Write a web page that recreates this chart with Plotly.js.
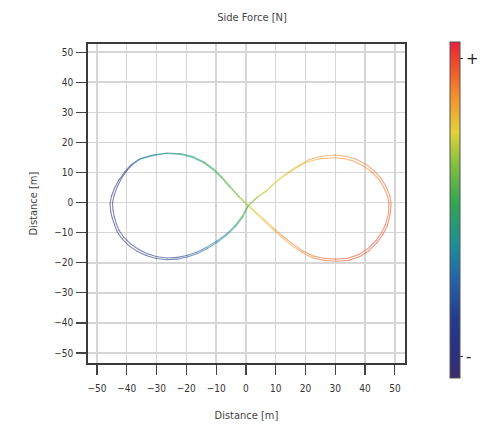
<!DOCTYPE html>
<html>
<head>
<meta charset="utf-8">
<script src="https://cdn.plot.ly/plotly-3.0.1.min.js"></script>
<style>html,body{margin:0;padding:0;background:#fff;}#chart{width:480px;height:430px;}</style>
</head>
<body>
<div id="chart"></div>
<script>
// Lap 1 of the figure-eight trajectory (Distance [m]) and side force (normalised -1..+1)
const lap1X = [0.8, 3.5, 6.9, 10.0, 13.6, 17.0, 20.2, 24.5, 29.1, 33.0, 35.8, 39.5, 42.4, 44.8, 46.3, 47.6, 48.0, 47.8, 46.9, 45.5, 43.6, 41.0, 38.0, 34.2, 30.2, 26.2, 22.4, 19.0, 15.8, 12.3, 9.1, 6.2, 3.6, 0.6, -2.2, -5.3, -8.0, -10.9, -14.0, -17.6, -21.5, -26.4, -31.0, -35.3, -37.8, -39.8, -41.8, -43.1, -44.2, -44.8, -44.6, -44.2, -43.5, -42.6, -41.0, -38.7, -36.0, -33.1, -29.8, -26.4, -23.0, -19.8, -16.4, -13.1, -9.7, -6.4, -3.6, -1.2, 0.8];
const lap1Y = [-1.0, 1.5, 3.8, 6.8, 9.4, 11.6, 13.4, 14.5, 14.9, 14.6, 13.9, 12.2, 10.0, 7.5, 5.0, 2.0, -0.5, -3.8, -7.2, -10.0, -12.7, -15.2, -17.2, -18.5, -18.8, -18.5, -17.7, -16.0, -13.8, -11.1, -8.3, -5.7, -3.3, -0.6, 2.0, 5.4, 8.5, 11.3, 13.5, 15.2, 16.2, 16.5, 15.9, 14.7, 12.9, 10.8, 8.0, 5.4, 2.5, -0.2, -2.5, -4.7, -7.0, -9.2, -11.5, -13.7, -15.6, -17.0, -18.0, -18.4, -18.2, -17.6, -16.4, -14.8, -12.7, -10.3, -7.6, -4.4, -1.0];
const lap1F = [0.30, 0.35, 0.40, 0.45, 0.50, 0.55, 0.60, 0.65, 0.68, 0.70, 0.72, 0.72, 0.74, 0.75, 0.76, 0.78, 0.80, 0.82, 0.85, 0.85, 0.86, 0.86, 0.85, 0.84, 0.82, 0.80, 0.78, 0.75, 0.72, 0.68, 0.62, 0.55, 0.48, 0.40, 0.30, 0.20, 0.12, 0.05, 0.00, -0.08, -0.12, -0.15, -0.20, -0.30, -0.45, -0.65, -0.80, -0.88, -0.92, -0.92, -0.90, -0.85, -0.80, -0.78, -0.80, -0.82, -0.85, -0.85, -0.82, -0.78, -0.70, -0.60, -0.50, -0.40, -0.30, -0.20, -0.10, 0.00, 0.15];

// Lap 2 (slightly offset repeat of the same path)
const lap2X = [0.8, 3.8, 7.3, 10.6, 14.2, 17.6, 21.0, 25.2, 29.8, 33.6, 36.6, 40.2, 43.0, 45.4, 47.0, 48.3, 48.7, 48.4, 47.5, 46.0, 44.0, 41.4, 38.3, 34.5, 30.4, 26.3, 22.3, 18.8, 15.5, 12.0, 8.8, 5.9, 3.3, 0.4, -2.4, -5.5, -8.3, -11.2, -14.3, -17.9, -21.9, -26.6, -31.4, -35.9, -38.6, -40.6, -42.6, -44.0, -45.1, -45.6, -45.4, -44.9, -44.1, -43.2, -41.6, -39.3, -36.5, -33.5, -30.1, -26.6, -23.1, -19.7, -16.2, -12.8, -9.4, -6.1, -3.3, -0.9, 0.8];
const lap2Y = [-1.0, 1.8, 4.3, 7.4, 10.1, 12.3, 14.2, 15.4, 15.8, 15.4, 14.6, 12.8, 10.6, 8.0, 5.4, 2.3, -0.6, -4.0, -7.6, -10.5, -13.3, -15.9, -17.9, -19.2, -19.5, -19.2, -18.3, -16.5, -14.3, -11.5, -8.7, -6.0, -3.6, -0.8, 1.9, 5.2, 8.3, 11.1, 13.3, 15.0, 16.0, 16.3, 15.6, 14.3, 12.5, 10.3, 7.6, 5.0, 2.2, -0.4, -2.8, -5.0, -7.4, -9.7, -12.0, -14.3, -16.2, -17.6, -18.6, -19.0, -18.8, -18.1, -16.9, -15.2, -13.0, -10.5, -7.8, -4.6, -1.0];
const lap2F = [0.15, 0.33, 0.42, 0.48, 0.52, 0.58, 0.62, 0.66, 0.70, 0.72, 0.74, 0.75, 0.76, 0.78, 0.80, 0.82, 0.84, 0.86, 0.88, 0.88, 0.88, 0.87, 0.86, 0.84, 0.82, 0.79, 0.76, 0.72, 0.68, 0.64, 0.58, 0.52, 0.45, 0.38, 0.28, 0.18, 0.10, 0.03, -0.04, -0.10, -0.14, -0.18, -0.24, -0.36, -0.55, -0.72, -0.85, -0.92, -0.95, -0.95, -0.93, -0.88, -0.84, -0.82, -0.83, -0.85, -0.86, -0.86, -0.83, -0.78, -0.68, -0.56, -0.46, -0.36, -0.26, -0.16, -0.06, 0.05, 0.20];

const cbTickVals = [0.9, -0.875];
const cbTickText = ['+', '-'];

const colorscale = [
  [0.00, '#3e2b6c'], [0.06, '#2c2f7c'], [0.18, '#243c8e'], [0.30, '#2466aa'],
  [0.40, '#1e8f96'], [0.52, '#33a552'], [0.64, '#86c03e'], [0.73, '#e2d23a'],
  [0.84, '#f2902c'], [0.93, '#ef4f2a'], [1.00, '#e7223c']
];

function hexToRgb(h){ return [parseInt(h.substr(1,2),16), parseInt(h.substr(3,2),16), parseInt(h.substr(5,2),16)]; }
function colorAt(v){
  const t = Math.max(0, Math.min(1, (v + 1) / 2));
  for (let i = 1; i < colorscale.length; i++) {
    if (t <= colorscale[i][0]) {
      const a = colorscale[i-1], b = colorscale[i];
      const f = (t - a[0]) / (b[0] - a[0]);
      const ca = hexToRgb(a[1]), cb = hexToRgb(b[1]);
      return 'rgb(' + ca.map((c, k) => Math.round(c + (cb[k] - c) * f)).join(',') + ')';
    }
  }
  return colorscale[colorscale.length-1][1];
}

const traces = [];
[[lap1X, lap1Y, lap1F], [lap2X, lap2Y, lap2F]].forEach(([xs, ys, fs]) => {
  for (let i = 0; i < xs.length - 1; i++) {
    traces.push({
      type: 'scatter', mode: 'lines', x: [xs[i], xs[i+1]], y: [ys[i], ys[i+1]],
      line: {color: colorAt((fs[i] + fs[i+1]) / 2), width: 1.1},
      opacity: 0.6, showlegend: false, hoverinfo: 'skip'
    });
  }
});

traces.push({
  type: 'scatter', mode: 'markers',
  x: lap1X.concat(lap2X), y: lap1Y.concat(lap2Y),
  marker: {
    size: 1, opacity: 0.4, color: lap1F.concat(lap2F), colorscale: colorscale, cmin: -1, cmax: 1,
    showscale: true,
    colorbar: {
      thickness: 10, lenmode: 'pixels', len: 356, y: 0.48, yanchor: 'middle',
      x: 0.9235, xanchor: 'left', xpad: 0, outlinecolor: '#555', outlinewidth: 1,
      tickvals: cbTickVals, ticktext: cbTickText, ticks: 'outside', ticklen: 3, tickcolor: '#333',
      tickfont: {size: 15, color: '#222', family: 'DejaVu Sans'}
    }
  },
  showlegend: false, hoverinfo: 'skip'
});

const fontFam = 'DejaVu Sans Condensed, Liberation Sans, sans-serif';
const axisCommon = {
  dtick: 10, tick0: 0, showgrid: true, gridcolor: '#d6d6d6', gridwidth: 1.5,
  zeroline: false, showline: true, mirror: true, linecolor: '#3a3a3a', linewidth: 1.8,
  ticks: 'outside', ticklen: 10, tickcolor: '#444', tickwidth: 1.2,
  tickfont: {family: fontFam, size: 10, color: '#333'}
};

const layout = {
  width: 480, height: 430,
  margin: {l: 88, r: 0, t: 44, b: 67, autoexpand: false},
  paper_bgcolor: '#fff', plot_bgcolor: '#fff',
  title: {text: 'Side Force [N]', x: 0.525, xanchor: 'center', y: 0.96, yanchor: 'middle',
          font: {family: fontFam, size: 11, color: '#444'}},
  xaxis: Object.assign({}, axisCommon, {
    domain: [0, 0.8087],
    range: [-53, 53.4], ticklabelstandoff: 5,
    title: {text: 'Distance [m]', standoff: 18, font: {family: fontFam, size: 11, color: '#444'}}
  }),
  yaxis: Object.assign({}, axisCommon, {
    range: [-53.3, 52.7], ticklabelstandoff: 1,
    title: {text: 'Distance [m]', standoff: 14, font: {family: fontFam, size: 11, color: '#444'}}
  })
};

Plotly.newPlot('chart', traces, layout, {displayModeBar: false, staticPlot: true});
</script>
</body>
</html>
